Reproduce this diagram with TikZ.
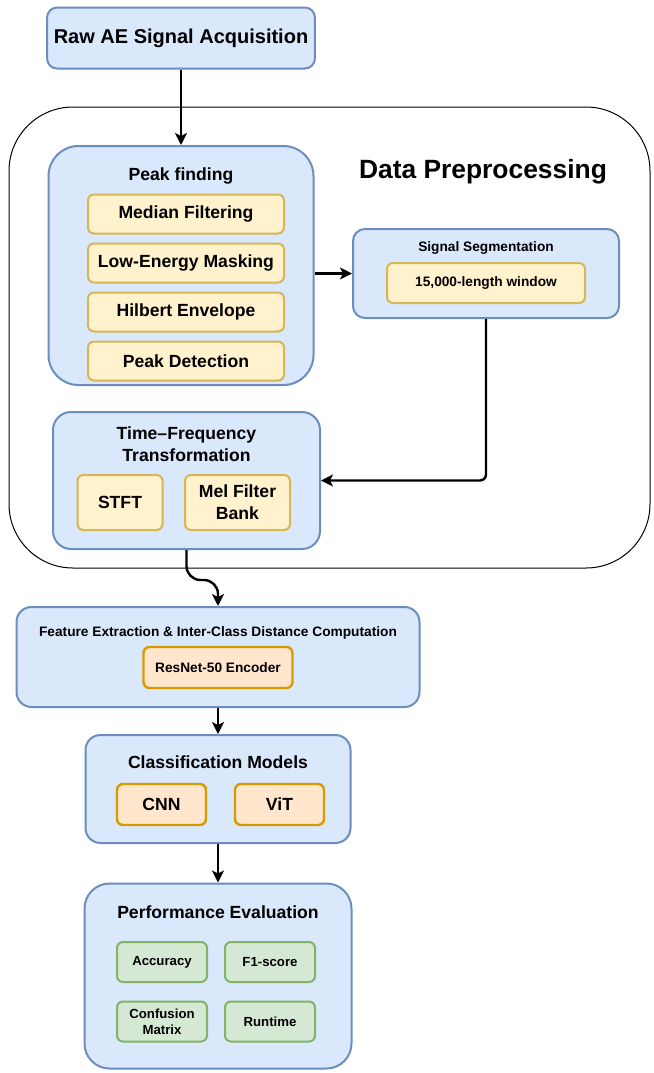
\documentclass[tikz,border=0pt]{standalone}
\usepackage{fontspec}
\setmainfont{Liberation Sans}
\usetikzlibrary{arrows.meta}

\definecolor{bluefill}{HTML}{DAE8FC}
\definecolor{blueline}{HTML}{6C8EBF}
\definecolor{yfill}{HTML}{FFF2CC}
\definecolor{yline}{HTML}{D6B656}
\definecolor{ofill}{HTML}{FFE6CC}
\definecolor{oline}{HTML}{D79B00}
\definecolor{gfill}{HTML}{D5E8D4}
\definecolor{gline}{HTML}{82B366}

\newcommand{\sizeHead}{\fontsize{10}{12}\selectfont\bfseries}
\newcommand{\sizeBig}{\fontsize{13.2}{15}\selectfont\bfseries}
\newcommand{\sizeTitle}{\fontsize{8.8}{11}\selectfont\bfseries}
\newcommand{\sizeSmall}{\fontsize{6.85}{8}\selectfont\bfseries}
\newcommand{\sizeTiny}{\fontsize{6.6}{7.8}\selectfont\bfseries}

\begin{document}
\begin{tikzpicture}[x=0.5pt, y=-0.5pt, >={Stealth[length=6pt, width=6pt, inset=1.5pt]},
  bluebox/.style={draw=blueline, fill=bluefill, line width=1pt},
  ybox/.style={draw=yline, fill=yfill, line width=1pt, rounded corners=3pt, align=center, font=\sizeTitle},
  obox/.style={draw=oline, fill=ofill, line width=1.2pt, rounded corners=3pt, minimum width=44.5pt, minimum height=20.5pt, font=\sizeTitle},
  gbox/.style={draw=gline, fill=gfill, line width=1pt, rounded corners=3pt, minimum width=45pt, minimum height=20pt, align=center, font=\sizeTiny},
  arrow/.style={->, line width=1.2pt}]
\useasboundingbox (0,0) rectangle (654,1073);

% Preprocessing block
\node[draw, line width=0.5pt, rounded corners=32pt, minimum width=320.5pt, minimum height=230.5pt] (prep) at (329.5,337.5) {};
\node[font=\sizeBig] (preptitle) at (483,172) {Data Preprocessing};

% Acquisition
\node[bluebox, rounded corners=5pt, minimum width=133pt, minimum height=30.5pt, font=\sizeHead] (raw) at (181,38) {Raw AE Signal Acquisition};

% Peak finding
\node[bluebox, rounded corners=15pt, minimum width=132.5pt, minimum height=119.5pt] (peak) at (181,265.5) {};
\node[font=\sizeTitle] (peaktitle) at (181,176) {Peak finding};
\node[ybox, minimum width=98pt, minimum height=19.5pt] (median) at (186,214) {Median Filtering};
\node[ybox, minimum width=98pt, minimum height=19.5pt] (mask) at (186,263) {Low-Energy Masking};
\node[ybox, minimum width=98pt, minimum height=19.5pt] (hilbert) at (186,312) {Hilbert Envelope};
\node[ybox, minimum width=98pt, minimum height=19.5pt] (detect) at (186,361) {Peak Detection};

% Segmentation
\node[bluebox, rounded corners=6pt, minimum width=133pt, minimum height=44.5pt] (seg) at (486,273.5) {};
\node[font=\sizeSmall] (segtitle) at (486,248) {Signal Segmentation};
\node[ybox, minimum width=99pt, minimum height=20pt, font=\sizeSmall] (window) at (486,283) {15,000-length window};

% Time-frequency
\node[bluebox, rounded corners=9pt, minimum width=133.5pt, minimum height=68.5pt] (tf) at (186.5,480.5) {};
\node[font=\sizeTitle, align=center] (tftitle) at (186.5,444) {Time–Frequency\\Transformation};
\node[ybox, minimum width=42.5pt, minimum height=27.5pt] (stft) at (120,502.5) {STFT};
\node[ybox, minimum width=52.5pt, minimum height=27.5pt] (mel) at (237.5,502.5) {Mel Filter\\Bank};

% Feature extraction
\node[bluebox, rounded corners=7.5pt, minimum width=201.5pt, minimum height=50pt] (feat) at (218,657) {};
\node[font=\sizeSmall] (feattitle) at (218,633) {Feature Extraction \& Inter-Class Distance Computation};
\node[obox, minimum width=74.5pt, font=\sizeSmall] (resnet) at (218,667.5) {ResNet-50 Encoder};

% Classification
\node[bluebox, rounded corners=7.5pt, minimum width=132.5pt, minimum height=54pt] (cls) at (218,789) {};
\node[font=\sizeTitle] (clstitle) at (218,762) {Classification Models};
\node[obox] (cnn) at (161.5,804.5) {CNN};
\node[obox] (vit) at (279.5,804.5) {ViT};

% Evaluation
\node[bluebox, rounded corners=12.5pt, minimum width=133.5pt, minimum height=92.5pt] (perf) at (218,976) {};
\node[font=\sizeTitle] (perftitle) at (218,912) {Performance Evaluation};
\node[gbox] (acc) at (162,962) {Accuracy};
\node[gbox] (f1) at (270,962) {F1-score};
\node[gbox] (conf) at (162,1021.5) {Confusion\\Matrix};
\node[gbox] (runtime) at (270,1021.5) {Runtime};

% Connectors
\coordinate (bend) at (200,580);
\draw[arrow] (raw.south) -- (peak.north);
\draw[arrow] (peak.east |- seg.west) -- (seg.west);
\draw[arrow, rounded corners=3pt] (seg.south) |- (tf.east);
\draw[arrow, rounded corners=7pt] (tf.south) -- (tf.south |- bend) -- (feat.north |- bend) -- (feat.north);
\draw[arrow] (feat.south) -- (cls.north);
\draw[arrow] (cls.south) -- (perf.north);
\end{tikzpicture}
\end{document}
